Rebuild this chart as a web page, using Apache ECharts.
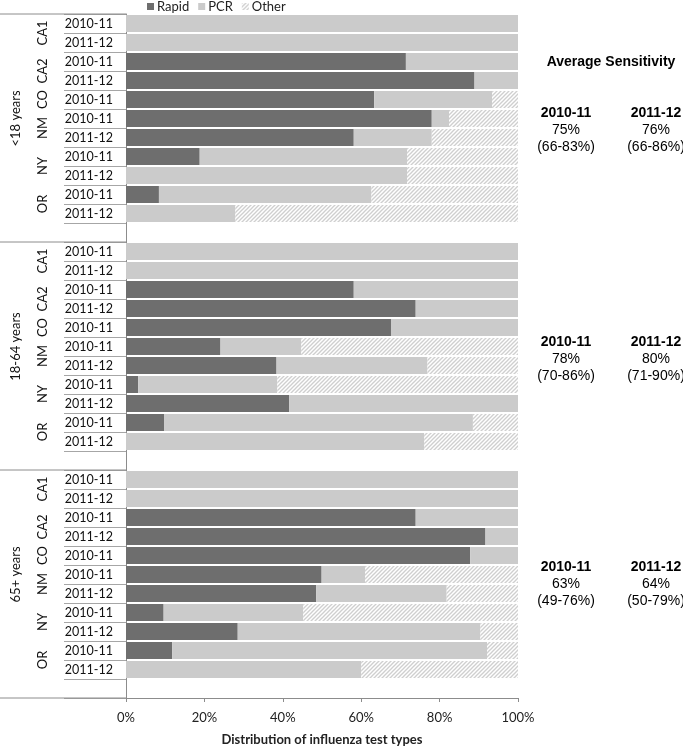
<!DOCTYPE html>
<html><head><meta charset="utf-8">
<script src="https://cdn.jsdelivr.net/npm/echarts@6/dist/echarts.min.js"></script>
<style>html,body{margin:0;padding:0;background:#fff}#c{width:683px;height:751px}</style>
</head><body><div id="c"></div>
<script>
// ---------- data ----------
const ageGroups = ['<18 years', '18-64 years', '65+ years'];
const sites   = ['CA1','CA1','CA2','CA2','CO','NM','NM','NY','NY','OR','OR'];
const seasons = ['2010-11','2011-12','2010-11','2011-12','2010-11','2010-11','2011-12','2010-11','2011-12','2010-11','2011-12'];

const rapidU18   = [0, 0, 71.4, 88.9, 63.3, 78.0, 58.1, 18.8, 0, 8.4, 0];
const pcrU18     = [100, 100, 28.6, 11.1, 30.1, 4.4, 19.9, 52.9, 71.7, 54.2, 27.9];
const otherU18   = [0, 0, 0, 0, 6.6, 17.6, 22.0, 28.3, 28.3, 37.4, 72.1];

const rapid1864  = [0, 0, 58.1, 73.9, 67.6, 24.1, 38.4, 3.1, 41.6, 9.7, 0];
const pcr1864    = [100, 100, 41.9, 26.1, 32.4, 20.6, 38.5, 35.5, 58.4, 78.8, 76.1];
const other1864  = [0, 0, 0, 0, 0, 55.3, 23.1, 61.4, 0, 11.5, 23.9];

const rapid65    = [0, 0, 73.9, 91.7, 87.8, 49.9, 48.5, 9.6, 28.5, 11.8, 0];
const pcr65      = [100, 100, 26.1, 8.3, 12.2, 11.1, 33.3, 35.6, 61.9, 80.3, 60.0];
const other65    = [0, 0, 0, 0, 0, 39.0, 18.2, 54.8, 9.6, 7.9, 40.0];

const xTicks = [0, 20, 40, 60, 80, 100];

const sensHeader = 'Average Sensitivity';
const sensSeasons = ['2010-11', '2011-12'];
const sensU18  = [['75%', '(66-83%)'], ['76%', '(66-86%)']];
const sens1864 = [['78%', '(70-86%)'], ['80%', '(71-90%)']];
const sens65   = [['63%', '(49-76%)'], ['64%', '(50-79%)']];

// ---------- build ----------
const rapidAll = [rapidU18, rapid1864, rapid65];
const pcrAll   = [pcrU18, pcr1864, pcr65];
const otherAll = [otherU18, other1864, other65];
const sensAll  = [sensU18, sens1864, sens65];

const cats = [], catLabel = {}, rapidData = [], pcrData = [], otherData = [];
ageGroups.forEach((g, gi) => {
  seasons.forEach((s, i) => {
    const id = 'g' + gi + '_' + i;
    cats.push(id); catLabel[id] = s;
    rapidData.push(rapidAll[gi][i]);
    pcrData.push(pcrAll[gi][i]);
    otherData.push(otherAll[gi][i]);
  });
  const id = 'g' + gi + '_blank';
  cats.push(id); catLabel[id] = '';
  rapidData.push('-'); pcrData.push('-'); otherData.push('-');
});

// hatch pattern
const hc = document.createElement('canvas');
const S = 4; hc.width = S; hc.height = S;
const hx = hc.getContext('2d');
hx.fillStyle = '#ffffff'; hx.fillRect(0, 0, S, S);
hx.strokeStyle = '#cfcfcf'; hx.lineWidth = 1.3;
[[0, S, S, 0], [-S, S, S, -S], [0, 2 * S, 2 * S, 0]].forEach(l => {
  hx.beginPath(); hx.moveTo(l[0], l[1]); hx.lineTo(l[2], l[3]); hx.stroke();
});
const hatch = { image: hc, repeat: 'repeat' };

const FONT = 'Lato, "Open Sans", sans-serif';
const ARIAL = '"Liberation Sans", Arial, sans-serif';

const chart = echarts.init(document.getElementById('c'), null, { renderer: 'canvas' });
chart.setOption({
  animation: false,
  backgroundColor: '#fff',
  textStyle: { fontFamily: FONT },
  legend: {
    data: ['Rapid', 'PCR', 'Other'],
    left: 147, top: 0, padding: 0, icon: 'rect', itemWidth: 7, itemHeight: 7, itemGap: 9,
    textStyle: { fontSize: 13, color: '#222', fontFamily: FONT, padding: [0, 0, 0, -2] }
  },
  grid: { left: 126, right: 165, top: 14, bottom: 50, containLabel: false },
  xAxis: {
    type: 'value', min: 0, max: 100, interval: 20,
    axisLine: { show: true, lineStyle: { color: '#8c8c8c', width: 1 } },
    axisTick: { show: true, length: 4, lineStyle: { color: '#8c8c8c' } },
    splitLine: { show: false },
    axisLabel: { formatter: v => v + '%', fontSize: 13, color: '#222', margin: 13, fontFamily: FONT },
    name: 'Distribution of influenza test types', nameLocation: 'middle', nameGap: 35,
    nameTextStyle: { fontWeight: 'bold', fontSize: 13, color: '#222', fontFamily: FONT }
  },
  yAxis: {
    type: 'category', data: cats, inverse: true,
    axisLine: { show: true, lineStyle: { color: '#8c8c8c', width: 1 } },
    axisTick: { show: true, length: 62, alignWithLabel: false, interval: 0, lineStyle: { color: '#a6a6a6' } },
    axisLabel: { interval: 0, formatter: v => catLabel[v], fontSize: 12.5, color: '#111', margin: 13, fontFamily: FONT }
  },
  series: [
    { name: 'Rapid', type: 'bar', stack: 't', barWidth: 17, data: rapidData,
      itemStyle: { color: '#6e6e6e' } },
    { name: 'PCR', type: 'bar', stack: 't', barWidth: 17, data: pcrData,
      itemStyle: { color: '#cbcbcb' } },
    { name: 'Other', type: 'bar', stack: 't', barWidth: 17, data: otherData,
      itemStyle: { color: hatch } }
  ]
});

// ---------- left table labels & right annotations ----------
const yPix = i => chart.convertToPixel({ yAxisIndex: 0 }, cats[i]);
const band = yPix(1) - yPix(0);
const x0 = chart.convertToPixel({ xAxisIndex: 0 }, 0);
const g = [];
ageGroups.forEach((name, gi) => {
  const base = gi * 12;
  const top = yPix(base) - band / 2;
  g.push({ type: 'line', shape: { x1: 0, y1: top, x2: x0, y2: top }, style: { stroke: '#8c8c8c', lineWidth: 1 }, z: 10 });
  const gc = (yPix(base) + yPix(base + 10)) / 2;
  g.push({ type: 'text', x: 16, y: gc, rotation: Math.PI / 2,
    style: { text: name, font: '13px ' + FONT, fill: '#111', textAlign: 'center', textVerticalAlign: 'middle' }, z: 10 });
  let i = 0;
  while (i < sites.length) {
    let j = i;
    while (j + 1 < sites.length && sites[j + 1] === sites[i]) j++;
    const c = (yPix(base + i) + yPix(base + j)) / 2;
    g.push({ type: 'text', x: 43, y: c, rotation: Math.PI / 2,
      style: { text: sites[i], font: '13px ' + FONT, fill: '#111', textAlign: 'center', textVerticalAlign: 'middle' }, z: 10 });
    i = j + 1;
  }
});
const bottom = yPix(cats.length - 1) + band / 2;
g.push({ type: 'line', shape: { x1: 0, y1: bottom, x2: x0, y2: bottom }, style: { stroke: '#8c8c8c', lineWidth: 1 }, z: 10 });

g.push({ type: 'text', x: 611, y: 62, style: { text: sensHeader, font: 'bold 14px ' + ARIAL, fill: '#000', textAlign: 'center', textVerticalAlign: 'middle' } });
const blockY = [113, 342, 567];
const colX = [566, 656];
sensAll.forEach((blk, gi) => {
  blk.forEach((vals, ci) => {
    const y = blockY[gi];
    g.push({ type: 'text', x: colX[ci], y: y, style: { text: sensSeasons[ci], font: 'bold 14px ' + ARIAL, fill: '#000', textAlign: 'center', textVerticalAlign: 'middle' } });
    g.push({ type: 'text', x: colX[ci], y: y + 17, style: { text: vals[0], font: '14px ' + ARIAL, fill: '#000', textAlign: 'center', textVerticalAlign: 'middle' } });
    g.push({ type: 'text', x: colX[ci], y: y + 34, style: { text: vals[1], font: '14px ' + ARIAL, fill: '#000', textAlign: 'center', textVerticalAlign: 'middle' } });
  });
});
chart.setOption({ graphic: { elements: g } });
</script></body></html>
